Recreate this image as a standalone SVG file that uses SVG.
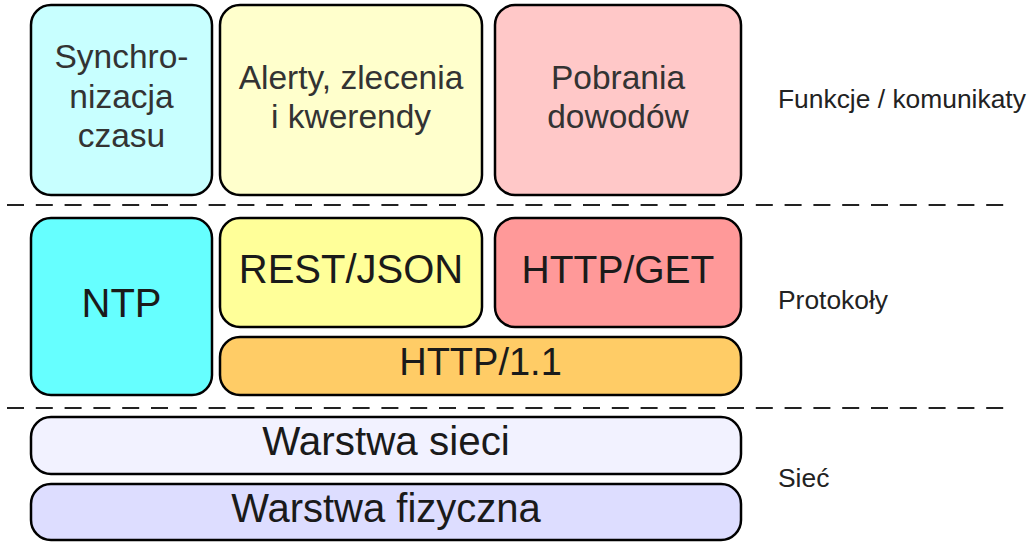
<svg xmlns="http://www.w3.org/2000/svg" width="1028" height="542" viewBox="0 0 1028 542">
<style>
.box{stroke:#000;stroke-width:2.5}
.t{font-family:"Liberation Sans",Arial,sans-serif;text-anchor:middle;fill:#1a1a1a}
.f{font-size:33.5px;fill:#333}
.p{font-size:40px}
.lbl{font-family:"Liberation Sans",Arial,sans-serif;font-size:26.4px;fill:#222}
.dash{stroke:#222;stroke-width:2.2;stroke-dasharray:17 11.8;fill:none}
</style>
<rect width="1028" height="542" fill="#fff"/>
<g id="separators">
<line class="dash" x1="7" y1="205" x2="1004" y2="205"/>
<line class="dash" x1="7" y1="408" x2="1004" y2="408"/>
</g>
<g id="synchronizacja">
<rect class="box" x="31" y="5" width="181" height="190" rx="20" fill="#C8FFFF"/>
<text class="t f" x="121.5" y="68">Synchro-</text>
<text class="t f" x="121.5" y="107.5">nizacja</text>
<text class="t f" x="121.5" y="147">czasu</text>
</g>
<g id="alerty">
<rect class="box" x="220" y="5" width="262" height="190" rx="20" fill="#FFFFCC"/>
<text class="t f" x="351" y="89">Alerty, zlecenia</text>
<text class="t f" x="351" y="128">i kwerendy</text>
</g>
<g id="pobrania">
<rect class="box" x="495" y="5" width="246" height="190" rx="20" fill="#FFC8C8"/>
<text class="t f" x="618" y="89">Pobrania</text>
<text class="t f" x="618" y="128">dowodów</text>
</g>
<g id="ntp">
<rect class="box" x="31" y="218" width="181" height="177" rx="20" fill="#66FFFF"/>
<text class="t p" x="121.5" y="317">NTP</text>
</g>
<g id="restjson">
<rect class="box" x="220" y="218" width="262" height="109" rx="20" fill="#FFFF99"/>
<text class="t p" x="351" y="283">REST/JSON</text>
</g>
<g id="httpget">
<rect class="box" x="495" y="218" width="246" height="109" rx="20" fill="#FF9999"/>
<text class="t" x="618" y="283" style="font-size:39px">HTTP/GET</text>
</g>
<g id="http11">
<rect class="box" x="220" y="337" width="521" height="58" rx="20" fill="#FFCC66"/>
<text class="t" x="480.5" y="375" style="font-size:38px">HTTP/1.1</text>
</g>
<g id="warstwa-sieci">
<rect class="box" x="31" y="417" width="710" height="57" rx="20" fill="#F2F2FF"/>
<text class="t" x="386" y="455" style="font-size:40.4px">Warstwa sieci</text>
</g>
<g id="warstwa-fizyczna">
<rect class="box" x="31" y="484" width="710" height="56" rx="20" fill="#DDDDFF"/>
<text class="t" x="386" y="522" style="font-size:40px">Warstwa fizyczna</text>
</g>
<g id="labels">
<text class="lbl" x="778" y="108">Funkcje / komunikaty</text>
<text class="lbl" x="778" y="309">Protokoły</text>
<text class="lbl" x="778" y="487">Sieć</text>
</g>
</svg>
